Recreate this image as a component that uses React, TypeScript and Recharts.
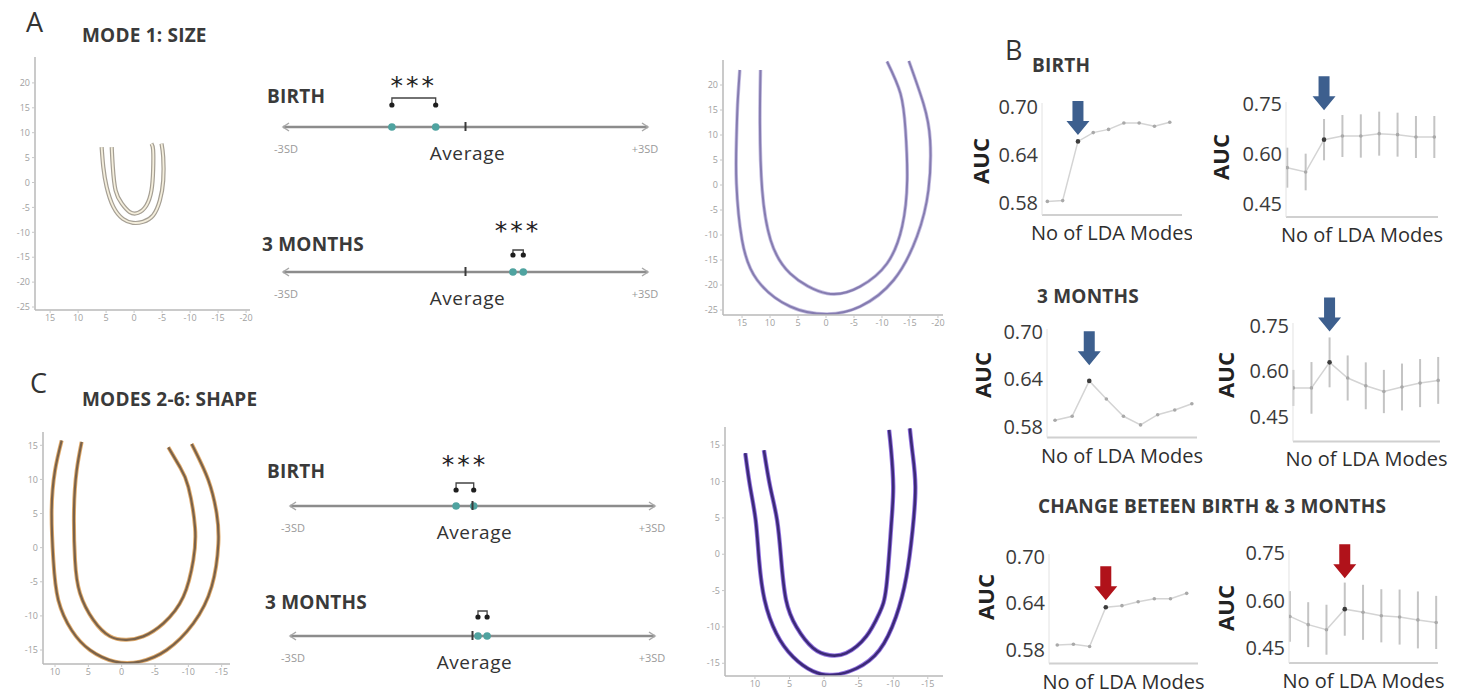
import type { FC } from "react";
import {
  ErrorBar,
  Line,
  LineChart,
  ComposedChart,
  ReferenceDot,
  ReferenceLine,
  Scatter,
  XAxis,
  YAxis,
} from "recharts";

type Pt = { x: number; y: number };

const FONT = "'Open Sans', 'Noto Sans', sans-serif";

// ---- A / C outlines (mm) ----
const sizeLowOuter: Pt[] = [
  { x: 5.8, y: 7.1 }, { x: 5.5, y: 3.1 }, { x: 4.9, y: -0.9 }, { x: 3.7, y: -4.9 },
  { x: 2, y: -7.3 }, { x: 0.2, y: -8.1 }, { x: -1.6, y: -7.9 }, { x: -3.4, y: -6.6 },
  { x: -4.6, y: -3.6 }, { x: -5.2, y: 0.4 }, { x: -5.2, y: 5.1 }, { x: -4.9, y: 7.8 },
];
const sizeLowInner: Pt[] = [
  { x: 4, y: 7.1 }, { x: 3.8, y: 3.1 }, { x: 3.3, y: -1.6 }, { x: 2.2, y: -4.2 },
  { x: 0.8, y: -5.9 }, { x: -0.7, y: -6.1 }, { x: -2.2, y: -4.6 }, { x: -3.1, y: -1.6 },
  { x: -3.4, y: 2.5 }, { x: -3.4, y: 6.5 }, { x: -3.1, y: 7.8 },
];
const sizeHighOuter: Pt[] = [
  { x: 15.4, y: 23 }, { x: 15.8, y: 16 }, { x: 16, y: 9 }, { x: 16, y: 0.3 },
  { x: 15, y: -11 }, { x: 12.3, y: -19 }, { x: 6.4, y: -24.3 }, { x: -0.2, y: -25.8 },
  { x: -6.1, y: -24.3 }, { x: -12.1, y: -19 }, { x: -16.25, y: -10.3 }, { x: -18.3, y: -1 },
  { x: -18.6, y: 9 }, { x: -17.4, y: 16.3 }, { x: -14.8, y: 24.8 },
];
const sizeHighInner: Pt[] = [
  { x: 11.7, y: 23 }, { x: 11.8, y: 12.3 }, { x: 11.4, y: -1 }, { x: 9.9, y: -11 },
  { x: 6.4, y: -17.7 }, { x: -0.2, y: -21.7 }, { x: -6.1, y: -20.3 }, { x: -10.9, y: -15.7 },
  { x: -13.6, y: -8.3 }, { x: -14.5, y: 1 }, { x: -14.2, y: 11 }, { x: -13.3, y: 18.3 },
  { x: -10.9, y: 24.7 },
];
const shapeLowOuter: Pt[] = [
  { x: 9, y: 15.7 }, { x: 10, y: 11.3 }, { x: 10.5, y: 5.5 }, { x: 10.25, y: -1.8 },
  { x: 9.5, y: -7.7 }, { x: 7.5, y: -12.1 }, { x: 4.75, y: -15 }, { x: 1, y: -16.7 },
  { x: -2.75, y: -16.7 }, { x: -6.75, y: -15 }, { x: -10.75, y: -11.1 }, { x: -13.5, y: -5.7 },
  { x: -14.5, y: 0.6 }, { x: -14.25, y: 5 }, { x: -13, y: 9.9 }, { x: -10.5, y: 15.2 },
];
const shapeLowInner: Pt[] = [
  { x: 6, y: 15.5 }, { x: 6.75, y: 11.3 }, { x: 7.15, y: 5.5 }, { x: 7, y: -1.8 },
  { x: 6.25, y: -6.7 }, { x: 4.25, y: -10.6 }, { x: 1.75, y: -13 }, { x: -0.75, y: -13.5 },
  { x: -3.25, y: -13 }, { x: -6.25, y: -11.1 }, { x: -9.25, y: -7.2 }, { x: -10.75, y: -1.8 },
  { x: -11, y: 3 }, { x: -10, y: 8.9 }, { x: -8.75, y: 11.8 }, { x: -7, y: 14.7 },
];
const shapeHighOuter: Pt[] = [
  { x: 11.4, y: 13.9 }, { x: 10.7, y: 9.3 }, { x: 9.9, y: 4.7 }, { x: 9.4, y: -0.8 },
  { x: 8.6, y: -6.3 }, { x: 6.9, y: -10.9 }, { x: 4.5, y: -14.1 }, { x: 1.6, y: -16.1 },
  { x: -1.3, y: -16.6 }, { x: -4.7, y: -15.7 }, { x: -8, y: -13.2 }, { x: -10.4, y: -8.6 },
  { x: -11.9, y: -3.1 }, { x: -12.8, y: 3.3 }, { x: -13.2, y: 9.3 }, { x: -12.8, y: 13.9 },
  { x: -12.4, y: 17.3 },
];
const shapeHighInner: Pt[] = [
  { x: 8.7, y: 14.3 }, { x: 7.8, y: 9.3 }, { x: 6.8, y: 4.7 }, { x: 6.2, y: -0.8 },
  { x: 5.5, y: -6.3 }, { x: 4, y: -10 }, { x: 1.6, y: -12.9 }, { x: -0.8, y: -13.9 },
  { x: -3.2, y: -13.6 }, { x: -6.1, y: -11.3 }, { x: -8, y: -8.1 }, { x: -9, y: -4.5 },
  { x: -9.7, y: 3.8 }, { x: -10, y: 9.3 }, { x: -9.7, y: 14.3 }, { x: -9.4, y: 17.1 },
];

const sizeXTicks = [15, 10, 5, 0, -5, -10, -15, -20];
const sizeYTicks = [20, 15, 10, 5, 0, -5, -10, -15, -20, -25];
const shapeXTicks = [10, 5, 0, -5, -10, -15];
const shapeYTicks = [15, 10, 5, 0, -5, -10, -15];

// ---- group means on the -3SD..+3SD scale ----
const SD_RANGE = [-3, 3];
const SD_TICKS = [-3, 0, 3];
const sizeBirthGroups = [-1.21, -0.49];
const size3mGroups = [0.78, 0.95];
const shapeBirthGroups = [-0.27, 0.02];
const shape3mGroups = [0.09, 0.24];

// ---- B: AUC vs number of LDA modes ----
const LDA_MODES = [1, 2, 3, 4, 5, 6, 7, 8, 9];
const birthAuc = [0.582, 0.583, 0.657, 0.668, 0.672, 0.68, 0.68, 0.676, 0.681];
const birthAucCv = [0.558, 0.545, 0.642, 0.653, 0.653, 0.66, 0.657, 0.65, 0.65];
const birthAucCvErr = [0.06, 0.055, 0.062, 0.063, 0.065, 0.066, 0.066, 0.063, 0.063];
const m3Auc = [0.588, 0.593, 0.638, 0.615, 0.593, 0.582, 0.595, 0.601, 0.609];
const m3AucCv = [0.545, 0.545, 0.63, 0.578, 0.552, 0.533, 0.548, 0.561, 0.57];
const m3AucCvErr = [0.06, 0.086, 0.083, 0.075, 0.078, 0.072, 0.078, 0.08, 0.078];
const changeAuc = [0.586, 0.587, 0.584, 0.635, 0.637, 0.642, 0.646, 0.646, 0.653];
const changeAucCv = [0.55, 0.524, 0.508, 0.573, 0.563, 0.552, 0.548, 0.539, 0.531];
const changeAucCvErr = [0.08, 0.071, 0.079, 0.084, 0.087, 0.084, 0.087, 0.09, 0.084];
const lowTicks = [0.58, 0.64, 0.7];
const wideTicks = [0.45, 0.6, 0.75];

const BLUE = "#3d5f8e";
const RED = "#b0121a";

const Txt: FC<{ x: number; y: number; size: number; bold?: boolean; color?: string; spacing?: number; children: string }> = ({
  x, y, size, bold, color = "#333", spacing = 0, children,
}) => (
  <div
    style={{
      position: "absolute",
      left: x,
      top: y - size * 0.53,
      fontSize: size,
      lineHeight: 1,
      whiteSpace: "nowrap",
      fontWeight: bold ? 700 : 400,
      color,
      letterSpacing: spacing,
    }}
  >
    {children}
  </div>
);

// section headings
const Head: FC<{ x: number; y: number; children: string }> = ({ x, y, children }) => (
  <Txt x={x} y={y} size={19} bold color="#3a3a3a" spacing={0.2}>{children}</Txt>
);

const Auc: FC<{ x: number; y: number }> = ({ x, y }) => (
  <div
    style={{
      position: "absolute",
      left: x,
      top: y,
      transform: "translate(-50%, -50%) rotate(-90deg)",
      fontSize: 22,
      fontWeight: 700,
      lineHeight: 1,
      color: "#222",
    }}
  >
    AUC
  </div>
);

type ShapeProps = {
  left: number;
  top: number;
  plotW: number;
  plotH: number;
  xDomain: [number, number];
  yDomain: [number, number];
  xTicks: number[];
  yTicks: number[];
  curves: Pt[][];
  core: string;
  halo: string;
  coreW: number;
  haloW: number;
};

const ShapePlot: FC<ShapeProps> = (p) => {
  const yw = 30;
  const xh = 22;
  const mt = 4;
  const mr = 8;
  const tick = { fill: "#a0a0a0", fontSize: 9, fontFamily: FONT };
  return (
    <div style={{ position: "absolute", left: p.left - yw, top: p.top - mt }}>
      <LineChart width={yw + p.plotW + mr} height={mt + p.plotH + xh} margin={{ top: mt, right: mr, bottom: 0, left: 0 }}>
        <XAxis
          type="number"
          dataKey="x"
          domain={p.xDomain}
          ticks={p.xTicks}
          reversed
          allowDataOverflow
          interval={0}
          height={xh}
          tick={tick}
          tickSize={3}
          axisLine={{ stroke: "#b8b8b8", strokeWidth: 1.5 }}
          tickLine={{ stroke: "#c8c8c8" }}
        />
        <YAxis
          type="number"
          domain={p.yDomain}
          ticks={p.yTicks}
          allowDataOverflow
          interval={0}
          width={yw}
          tick={tick}
          tickSize={3}
          axisLine={{ stroke: "#b8b8b8", strokeWidth: 1.5 }}
          tickLine={{ stroke: "#c8c8c8" }}
        />
        {p.curves.map((c, i) => (
          <Line key={`h${i}`} data={c} dataKey="y" type="natural" stroke={p.halo} strokeWidth={p.haloW} dot={false} isAnimationActive={false} />
        ))}
        {p.curves.map((c, i) => (
          <Line key={`c${i}`} data={c} dataKey="y" type="natural" stroke={p.core} strokeWidth={p.coreW} dot={false} isAnimationActive={false} />
        ))}
      </LineChart>
    </div>
  );
};

const SdTick = (props: any) => {
  const { x, y, payload } = props;
  const v = payload.value;
  if (v === 0) {
    return (
      <g>
        <line x1={x} x2={x} y1={y - 5} y2={y + 4} stroke="#3a3a3a" strokeWidth={2} />
        <text x={x + 2} y={y + 33} textAnchor="middle" fontSize={19} fill="#333" fontFamily={FONT} letterSpacing={0.6}>
          Average
        </text>
      </g>
    );
  }
  const d = v < 0 ? 1 : -1;
  return (
    <g>
      <path d={`M${x + 6 * d},${y - 4} L${x},${y} L${x + 6 * d},${y + 4}`} stroke="#a8a8a8" strokeWidth={1.5} fill="none" />
      <text x={x + 3 * d} y={y + 26} textAnchor="middle" fontSize={11} fill="#9a9a9a" fontFamily={FONT}>
        {v < 0 ? "-3SD" : "+3SD"}
      </text>
    </g>
  );
};

type LineProps = { x0: number; x1: number; lineY: number; groups: number[]; stars: boolean; dotGap: number; bracketGap: number };

const NumberLine: FC<LineProps> = ({ x0, x1, lineY, groups, stars, dotGap, bracketGap }) => {
  const pad = 30;
  const mt = 55;
  const ph = 10;
  const xh = 45;
  const bracket = (s: any) => (
    <g>
      <path
        d={`M${s.x1},${s.y1 - dotGap} L${s.x1},${s.y1 - bracketGap} L${s.x2},${s.y2 - bracketGap} L${s.x2},${s.y2 - dotGap}`}
        stroke="#444"
        strokeWidth={1.3}
        fill="none"
      />
      {stars && (
        <text x={(s.x1 + s.x2) / 2} y={s.y1 - 46 + 13} textAnchor="middle" fontSize={25} fontFamily="DejaVu Sans" fill="#222" letterSpacing={3}>
          ***
        </text>
      )}
    </g>
  );
  const group = (s: any) => (
    <g>
      <circle cx={s.cx} cy={s.cy - dotGap} r={2.6} fill="#1e1e1e" />
      <circle cx={s.cx} cy={s.cy} r={3.8} fill="#4fa3a0" />
    </g>
  );
  return (
    <div style={{ position: "absolute", left: x0 - pad, top: lineY - mt - ph }}>
      <ComposedChart width={x1 - x0 + 2 * pad} height={mt + ph + xh} margin={{ top: mt, right: pad, bottom: 0, left: pad }}>
        <XAxis
          type="number"
          dataKey="x"
          domain={SD_RANGE}
          ticks={SD_TICKS}
          interval={0}
          axisLine={false}
          tickLine={false}
          tickSize={0}
          tickMargin={0}
          height={xh}
          tick={<SdTick />}
        />
        <YAxis type="number" dataKey="y" domain={[0, 1]} hide />
        <Line data={SD_RANGE.map((x) => ({ x, y: 0 }))} dataKey="y" stroke="#8c8c8c" strokeWidth={2.5} dot={false} isAnimationActive={false} />
        <ReferenceLine
          segment={[{ x: groups[0], y: 0 }, { x: groups[1], y: 0 }]}
          ifOverflow="visible"
          shape={bracket}
        />
        <Scatter data={groups.map((x) => ({ x, y: 0 }))} dataKey="y" shape={group} isAnimationActive={false} />
      </ComposedChart>
    </div>
  );
};

type AucProps = {
  plotL: number;
  plotT: number;
  plotW: number;
  plotH: number;
  xDomain: [number, number];
  yDomain: [number, number];
  yTicks: number[];
  auc: number[];
  err?: number[];
  hl: number;
  tip: number;
  color: string;
};

const AucPlot: FC<AucProps> = (p) => {
  const yw = 55;
  const mt = 45;
  const mr = 10;
  const xh = 42;
  const rows = LDA_MODES.map((m, i) => ({ mode: m, auc: p.auc[i], err: p.err ? p.err[i] : 0 }));
  const dot = (d: any) => (
    <circle key={`d${d.index}`} cx={d.cx} cy={d.cy} r={d.index === p.hl ? 2.3 : 1.8} fill={d.index === p.hl ? "#3c3c3c" : "#a9a9a9"} />
  );
  const arrow = (s: any) => {
    const { cx, cy } = s;
    const hw = 11.5;
    const hh = 14;
    const sw = 5.5;
    const sh = 20;
    return (
      <path
        d={`M${cx},${cy} L${cx - hw},${cy - hh} L${cx - sw},${cy - hh} L${cx - sw},${cy - hh - sh} L${cx + sw},${cy - hh - sh} L${cx + sw},${cy - hh} L${cx + hw},${cy - hh} Z`}
        fill={p.color}
      />
    );
  };
  return (
    <div style={{ position: "absolute", left: p.plotL - yw, top: p.plotT - mt }}>
      <LineChart data={rows} width={yw + p.plotW + mr} height={mt + p.plotH + xh} margin={{ top: mt, right: mr, bottom: 0, left: 0 }}>
        <XAxis
          type="number"
          dataKey="mode"
          domain={p.xDomain}
          allowDataOverflow
          tick={false}
          tickLine={false}
          axisLine={{ stroke: "#d0d0d0", strokeWidth: 2 }}
          height={xh}
          label={{ value: "No of LDA Modes", position: "insideBottom", offset: 17, fill: "#2e2e2e", fontSize: 20, fontFamily: FONT }}
        />
        <YAxis
          type="number"
          domain={p.yDomain}
          ticks={p.yTicks}
          allowDataOverflow
          interval={0}
          width={yw}
          tickSize={0}
          tickMargin={4}
          tickLine={false}
          axisLine={{ stroke: "#e2e2e2" }}
          tick={{ fill: "#3a3a3a", fontSize: 20, fontFamily: FONT }}
          tickFormatter={(v: number) => v.toFixed(2)}
        />
        <Line dataKey="auc" stroke="#d4d4d4" strokeWidth={1.5} dot={dot} isAnimationActive={false}>
          {p.err && <ErrorBar dataKey="err" width={0} stroke="#c4c4c4" strokeWidth={2} direction="y" />}
        </Line>
        <ReferenceDot x={LDA_MODES[p.hl]} y={p.tip} ifOverflow="visible" shape={arrow} />
      </LineChart>
    </div>
  );
};

export default function App() {
  return (
    <div
      style={{
        position: "absolute",
        left: 0,
        top: 0,
        width: 1458,
        height: 698,
        background: "#fff",
        fontFamily: FONT,
        overflow: "hidden",
      }}
    >
      {/* panel A */}
      <Txt x={26} y={22} size={27} color="#333">A</Txt>
      <Head x={82} y={36}>MODE 1: SIZE</Head>
      <ShapePlot
        left={35} top={57} plotW={215} plotH={253}
        xDomain={[-20.7, 17.7]} yDomain={[-25.6, 25.2]}
        xTicks={sizeXTicks} yTicks={sizeYTicks}
        curves={[sizeLowOuter, sizeLowInner]}
        core="#f4eedc" halo="#a59f94" coreW={1.8} haloW={4.2}
      />
      <Head x={267} y={97}>BIRTH</Head>
      <NumberLine x0={283} x1={648} lineY={127} groups={sizeBirthGroups} stars dotGap={22} bracketGap={29} />
      <Head x={262} y={245}>3 MONTHS</Head>
      <NumberLine x0={283} x1={648} lineY={272} groups={size3mGroups} stars dotGap={17} bracketGap={22} />
      <ShapePlot
        left={723} top={60} plotW={220} plotH={255}
        xDomain={[-20.9, 18.4]} yDomain={[-26, 25]}
        xTicks={sizeXTicks} yTicks={sizeYTicks}
        curves={[sizeHighOuter, sizeHighInner]}
        core="#857cb0" halo="#c6bfe2" coreW={2} haloW={3.6}
      />

      {/* panel C */}
      <Txt x={30} y={383} size={27} color="#333">C</Txt>
      <Head x={82} y={400}>MODES 2-6: SHAPE</Head>
      <ShapePlot
        left={43} top={432} plotW={187} plotH={232}
        xDomain={[-16.25, 11.8]} yDomain={[-17.05, 16.95]}
        xTicks={shapeXTicks} yTicks={shapeYTicks}
        curves={[shapeLowOuter, shapeLowInner]}
        core="#7a624a" halo="#e2ac6c" coreW={2.2} haloW={4}
      />
      <Head x={267} y={472}>BIRTH</Head>
      <NumberLine x0={290} x1={655} lineY={506} groups={shapeBirthGroups} stars dotGap={16} bracketGap={23} />
      <Head x={265} y={603}>3 MONTHS</Head>
      <NumberLine x0={290} x1={655} lineY={636} groups={shape3mGroups} stars={false} dotGap={19} bracketGap={25} />
      <ShapePlot
        left={725} top={427} plotW={218} plotH={249}
        xDomain={[-17.2, 14.33]} yDomain={[-16.75, 17.5]}
        xTicks={shapeXTicks} yTicks={shapeYTicks}
        curves={[shapeHighOuter, shapeHighInner]}
        core="#3c2a78" halo="#9474e2" coreW={2.6} haloW={4.4}
      />

      {/* panel B */}
      <Txt x={1005} y={50} size={27} color="#333">B</Txt>
      <Head x={1032} y={66}>BIRTH</Head>
      <Auc x={980} y={161} />
      <AucPlot plotL={1042} plotT={103} plotW={140} plotH={112} xDomain={[0.65, 9.8]} yDomain={[0.565, 0.705]} yTicks={lowTicks} auc={birthAuc} hl={2} tip={0.665} color={BLUE} />
      <Auc x={1220} y={157} />
      <AucPlot plotL={1286} plotT={101.7} plotW={152} plotH={115} xDomain={[0.93, 9.2]} yDomain={[0.41, 0.755]} yTicks={wideTicks} auc={birthAucCv} err={birthAucCvErr} hl={2} tip={0.73} color={BLUE} />

      <Head x={1037} y={297}>3 MONTHS</Head>
      <Auc x={982} y={375} />
      <AucPlot plotL={1047} plotT={328.5} plotW={150} plotH={108.5} xDomain={[0.53, 9.3]} yDomain={[0.566, 0.704]} yTicks={lowTicks} auc={m3Auc} hl={2} tip={0.658} color={BLUE} />
      <Auc x={1225} y={375} />
      <AucPlot plotL={1293} plotT={323.3} plotW={147} plotH={118.4} xDomain={[0.98, 9.1]} yDomain={[0.367, 0.761]} yTicks={wideTicks} auc={m3AucCv} err={m3AucCvErr} hl={2} tip={0.733} color={BLUE} />

      <Head x={1038} y={507}>CHANGE BETEEN BIRTH &amp; 3 MONTHS</Head>
      <Auc x={985} y={597} />
      <AucPlot plotL={1049} plotT={553.6} plotW={149} plotH={109.5} xDomain={[0.49, 9.7]} yDomain={[0.562, 0.704]} yTicks={lowTicks} auc={changeAuc} hl={3} tip={0.644} color={RED} />
      <Auc x={1225} y={608} />
      <AucPlot plotL={1289} plotT={550.2} plotW={149} plotH={113.1} xDomain={[0.95, 9.1]} yDomain={[0.4025, 0.76]} yTicks={wideTicks} auc={changeAucCv} err={changeAucCvErr} hl={3} tip={0.671} color={RED} />
    </div>
  );
}
